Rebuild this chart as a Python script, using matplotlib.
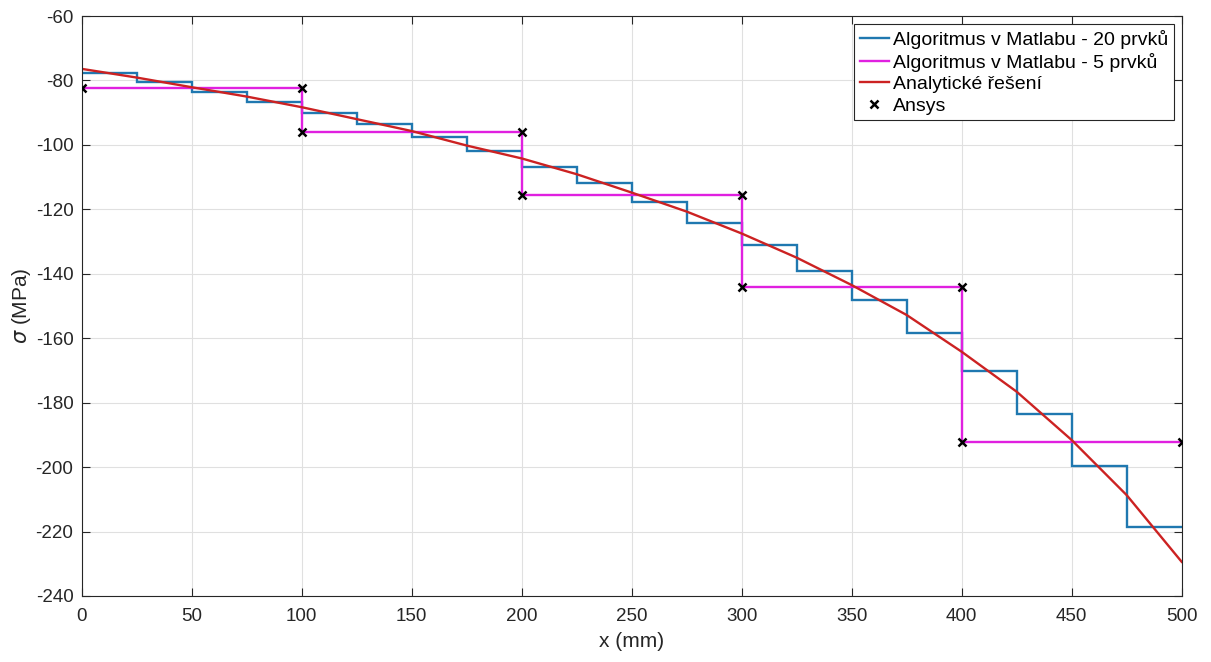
import matplotlib
matplotlib.use("Agg")
import matplotlib.pyplot as plt
import numpy as np

plt.rcParams['font.family'] = ['Liberation Sans', 'DejaVu Sans']
plt.rcParams['axes.unicode_minus'] = False

# 20-element algorithm (step values per 25 mm element)
x20_edges = [0, 25, 50, 75, 100, 125, 150, 175, 200, 225, 250, 275, 300,
             325, 350, 375, 400, 425, 450, 475, 500]
s20 = [-77.7, -80.5, -83.5, -86.6, -90.1, -93.6, -97.4, -101.9, -106.8, -111.9,
       -117.6, -124.1, -131.2, -139.1, -148.1, -158.4, -170.1, -183.6, -199.8, -218.6]

# 5-element algorithm
x5_edges = [0, 100, 200, 300, 400, 500]
s5 = [-82.4, -96.1, -115.4, -144.2, -192.3]

# Analytical solution (read points)
xa = [0, 25, 50, 75, 100, 125, 150, 175, 200, 225, 250, 275, 300, 325, 350,
      375, 400, 425, 450, 475, 500]
sa = [-76.4, -79.1, -82.1, -85.0, -88.3, -92.0, -95.7, -100.2, -104.2, -109.1,
      -114.8, -120.7, -127.5, -135.0, -143.5, -152.8, -164.2, -176.6, -191.6,
      -208.7, -229.4]

# Ansys
xan = [0, 100, 100, 200, 200, 300, 300, 400, 400, 500]
san = [-82.4, -82.4, -96.1, -96.1, -115.4, -115.4, -144.2, -144.2, -192.3, -192.3]

fig = plt.figure(figsize=(12.11, 6.62), dpi=100)
ax = fig.add_axes([0.0675, 0.0997, 0.9083, 0.8761])

ax.stairs(s20, x20_edges, color='#1f78b0', lw=1.7, baseline=None,
          label='Algoritmus v Matlabu - 20 prvků')
ax.stairs(s5, x5_edges, color='#e020e0', lw=1.7, baseline=None,
          label='Algoritmus v Matlabu - 5 prvků')
ax.plot(xa, sa, color='#cc2222', lw=1.7, label='Analytické řešení')
ax.plot(xan, san, 'x', color='black', ms=6, mew=1.8, label='Ansys', zorder=5)

ax.set_xlim(0, 500)
ax.set_ylim(-240, -60)
ax.set_xticks(np.arange(0, 501, 50))
ax.set_yticks(np.arange(-240, -59, 20))
ax.grid(True, color='#e0e0e0', lw=0.8)
ax.set_axisbelow(True)
ax.tick_params(direction='in', top=True, right=True, labelsize=13.5,
               colors='#262626', length=6, width=0.8)
ax.tick_params(axis='x', pad=9)
ax.tick_params(axis='y', pad=6)
for sp in ax.spines.values():
    sp.set_color('#262626')
    sp.set_linewidth(0.8)

ax.set_xlabel('x (mm)', fontsize=15, color='#262626', labelpad=5)
ax.set_ylabel(r'$\sigma$ (MPa)', fontsize=15, color='#262626', labelpad=2)

leg = ax.legend(loc='upper right', fontsize=14, frameon=True, fancybox=False,
                edgecolor='#262626', framealpha=1, labelspacing=0.2,
                handlelength=1.5, handletextpad=0.2, borderpad=0.3,
                borderaxespad=0.4)
leg.get_frame().set_linewidth(0.8)

fig.savefig('out.png', dpi=100)
